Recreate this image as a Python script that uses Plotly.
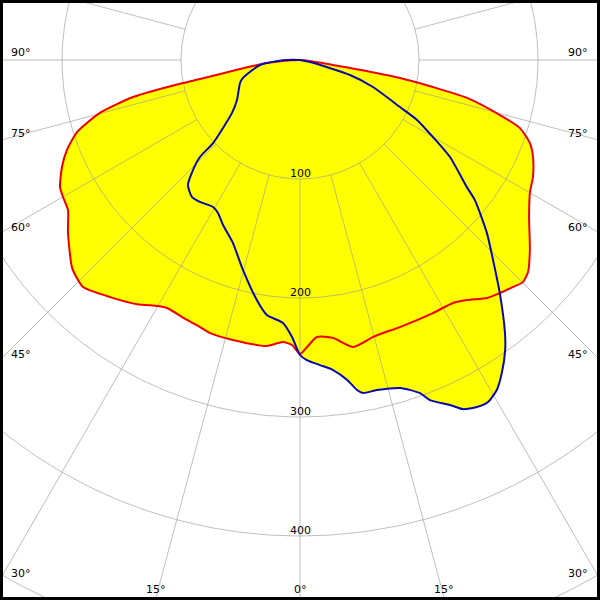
import numpy as np
import plotly.graph_objects as go

# Photometric polar diagram (cd/klm). Angle measured from nadir, negative = left side.
# Red: C0-C180 plane
red_angle = [-90, -84.8, -81.5, -79.2, -78.9, -77.5, -75.2, -72.1, -68.9, -65.8,
             -62.1, -60.0, -57.1, -53.3, -47.8, -45.7, -43.7, -38.7, -33.7, -30.0,
             -28.2, -23.5, -20.5, -18.2, -13.5, -6.6, -3.5, -1.6, 0, 1.4,
             3.5, 6.8, 10.5, 14.8, 16.9, 20.5, 27.7, 32.2, 34.8, 38.2,
             40.6, 43.2, 45.1, 47.1, 50.4, 55.6, 60.1, 63.3, 67.4, 70.1,
             72.8, 74.6, 77.2, 78.5, 79.8, 80.9, 90]
red_value = [0, 27.9, 51.0, 85.5, 100.2, 143.7, 173.9, 196.9, 209.9, 219.3,
             228.2, 230.0, 232.2, 243.2, 258.8, 262.1, 263.9, 255.3, 246.6, 238.7,
             236.5, 238.2, 239.6, 241.6, 241.9, 241.9, 237.4, 239.6, 247.1, 241.3,
             233.2, 235.3, 245.3, 240.7, 239.8, 239.6, 240.2, 241.3, 245.7, 254.4,
             258.0, 261.6, 264.4, 261.6, 250.7, 233.3, 222.9, 219.1, 212.1, 205.5,
             193.5, 174.3, 143.9, 114.0, 85.4, 42.5, 0]

# Blue: C90-C270 plane
blue_angle = [-90, -89, -82.9, -72.5, -69.0, -57.6, -52.1, -46.3, -45.9, -44.2,
              -41.9, -38.3, -35.2, -30.6, -28.2, -25.0, -20.1, -15.7, -10.2, -7.4,
              -3.7, -1.65, 0, 1.3, 3.75, 6.1, 8.4, 9.8, 10.7, 13.1,
              17.0, 19.8, 20.9, 23.5, 25.0, 27.0, 28.8, 30.8, 32.8, 35.3,
              36.9, 40.6, 44.0, 47.2, 51.3, 52.7, 57.1, 59.9, 62.9, 64.8,
              69.7, 73.3, 78.7, 90]
blue_value = [0, 14.3, 33.9, 50.2, 54.0, 62.7, 72.4, 101.0, 117.1, 129.0,
              141.0, 146.6, 146.0, 143.5, 145.9, 153.0, 163.8, 180.7, 204.9, 216.1,
              221.5, 232.9, 247.9, 252.2, 256.9, 262.0, 271.8, 281.4, 284.8, 284.8,
              288.2, 297.5, 305.9, 316.1, 323.7, 327.3, 328.0, 322.9, 313.0, 298.4,
              286.9, 258.0, 233.5, 214.1, 188.3, 176.3, 150.1, 129.2, 110.5, 92.9,
              65.4, 43.9, 8.6, 0]

ring_values = [100, 200, 300, 400, 500, 600]
ring_labels = ["100", "200", "300", "400"]
spoke_step = 15
side_labels = [90, 75, 60, 45, 30]
bottom_labels = [-15, 0, 15]

# ---- geometry of the view (pixels) ----
W = H = 600
M = 3                      # black frame
CX, CY = 300.0, 60.0       # pole position in px
PX_PER_UNIT = 1.19
x_min = -(CX - M) / PX_PER_UNIT
x_max = (W - M - CX) / PX_PER_UNIT
y_max = (CY - M) / PX_PER_UNIT
y_min = -(H - M - CY) / PX_PER_UNIT


def to_xy(angle_deg, value):
    a = np.radians(np.asarray(angle_deg, dtype=float))
    v = np.asarray(value, dtype=float)
    return v * np.sin(a), -v * np.cos(a)


fig = go.Figure()

rx, ry = to_xy(red_angle, red_value)
bx, by = to_xy(blue_angle, blue_value)

SM = 0.6
# yellow fills
for xx, yy in ((rx, ry), (bx, by)):
    fig.add_trace(go.Scatter(x=xx, y=yy, mode="lines", fill="toself",
                             fillcolor="#ffff00",
                             line=dict(width=0, shape="spline", smoothing=SM),
                             hoverinfo="skip", showlegend=False))

# grid
gx, gy = [], []
t = np.linspace(0, 2 * np.pi, 721)
for r in ring_values:
    gx += list(r * np.sin(t)) + [None]
    gy += list(-r * np.cos(t)) + [None]
for a in range(0, 360, spoke_step):
    sx, sy = to_xy([a, a], [100, 800])
    gx += list(sx) + [None]
    gy += list(sy) + [None]
fig.add_trace(go.Scatter(x=gx, y=gy, mode="lines",
                         line=dict(color="rgba(150,150,150,0.62)", width=1),
                         hoverinfo="skip", showlegend=False))

# curves
fig.add_trace(go.Scatter(x=rx, y=ry, mode="lines",
                         line=dict(color="#ee0000", width=2, shape="spline", smoothing=SM),
                         hoverinfo="skip", showlegend=False))
fig.add_trace(go.Scatter(x=bx, y=by, mode="lines",
                         line=dict(color="#0808b0", width=2, shape="spline", smoothing=SM),
                         hoverinfo="skip", showlegend=False))

font = dict(family="DejaVu Sans", size=11, color="black")
ann = []
for lab in ring_labels:
    r = float(lab)
    ann.append(dict(x=0, y=-r, xref="x", yref="y", text=lab, showarrow=False,
                    xanchor="center", yanchor="bottom", yshift=-3, font=font))

for a in side_labels:
    ypx = CY + (CX - M) / np.tan(np.radians(a)) if a != 90 else CY
    ypx -= 7.5 - 0.11 * (90 - a)
    yp = (H - M - ypx) / (H - 2 * M)
    ann.append(dict(x=(9 - M) / (W - 2 * M), y=yp, xref="paper", yref="paper",
                    text=f"{a}°", showarrow=False, xanchor="left", yanchor="middle", font=font))
    ann.append(dict(x=(590 - M) / (W - 2 * M), y=yp, xref="paper", yref="paper",
                    text=f"{a}°", showarrow=False, xanchor="right", yanchor="middle", font=font))

for a in bottom_labels:
    xd = -y_min * np.tan(np.radians(a))
    ann.append(dict(x=xd, y=(H - M - 589) / (H - 2 * M), xref="x", yref="paper",
                    text=f"{abs(a)}°", showarrow=False, xanchor="center", yanchor="middle", font=font))

fig.update_layout(
    width=W, height=H,
    margin=dict(l=M, r=M, t=M, b=M, pad=0),
    paper_bgcolor="black", plot_bgcolor="white",
    xaxis=dict(range=[x_min, x_max], visible=False, fixedrange=True),
    yaxis=dict(range=[y_min, y_max], visible=False, fixedrange=True),
    annotations=ann,
    showlegend=False,
)

fig.write_html("out.html", config={"displayModeBar": False, "staticPlot": True},
               post_script="document.body.style.margin='0';document.body.style.overflow='hidden';")
